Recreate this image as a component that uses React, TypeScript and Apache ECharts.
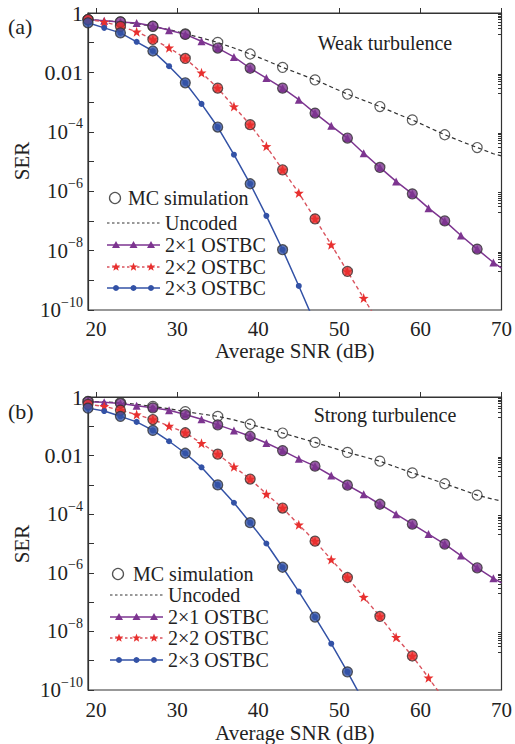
import React, { useEffect, useRef } from 'react';
import * as echarts from 'echarts';

// ---------- data (SER given as log10 values) ----------
const SNR_DB = [19, 21, 23, 25, 27, 29, 31, 33, 35, 37, 39, 41, 43, 45, 47, 49, 51, 53, 55, 57, 59, 61, 63, 65, 67, 69, 70];
const MC_SNR = [19, 23, 27, 31, 35, 39, 43, 47, 51, 55, 59, 63, 67];

const X_TICKS = [20, 30, 40, 50, 60, 70];
const Y_LABEL_TICKS = [0, -2, -4, -6, -8, -10];
const Y_MAJOR_TICKS = [0, -1, -2, -3, -4, -5, -6, -7, -8, -9, -10];

// (a) weak turbulence
const uncodedA = [-0.22, -0.26, -0.30, -0.36, -0.45, -0.56, -0.70, -0.84, -0.99, -1.18, -1.38, -1.60, -1.83, -2.04, -2.25, -2.49, -2.73, -2.94, -3.15, -3.38, -3.60, -3.85, -4.10, -4.32, -4.53, -4.74, -4.81];
const ostbc21A = [-0.22, -0.26, -0.30, -0.34, -0.44, -0.58, -0.72, -0.95, -1.18, -1.48, -1.86, -2.19, -2.53, -2.92, -3.37, -3.80, -4.21, -4.72, -5.20, -5.67, -6.09, -6.57, -7.00, -7.49, -7.95, -8.40, -8.59];
const ostbc22A = [-0.22, -0.30, -0.45, -0.63, -0.89, -1.17, -1.53, -2.01, -2.53, -3.15, -3.76, -4.49, -5.28, -6.06, -6.93, -7.80, -8.70, -9.60, -10.5];
const ostbc23A = [-0.33, -0.50, -0.67, -0.97, -1.28, -1.79, -2.35, -3.06, -3.84, -4.77, -5.75, -6.83, -7.97, -9.19, -10.45];

// (b) strong turbulence
const uncodedB = [-0.15, -0.17, -0.19, -0.25, -0.32, -0.40, -0.50, -0.58, -0.66, -0.78, -0.93, -1.08, -1.23, -1.39, -1.55, -1.72, -1.89, -2.04, -2.19, -2.39, -2.59, -2.77, -2.96, -3.15, -3.35, -3.49, -3.55];
const ostbc21B = [-0.16, -0.18, -0.22, -0.30, -0.37, -0.45, -0.60, -0.76, -0.95, -1.14, -1.34, -1.57, -1.83, -2.11, -2.36, -2.68, -3.01, -3.32, -3.66, -4.00, -4.34, -4.68, -5.02, -5.41, -5.83, -6.19, -6.34];
const ostbc22B = [-0.25, -0.32, -0.45, -0.60, -0.77, -0.99, -1.22, -1.58, -1.95, -2.38, -2.80, -3.31, -3.79, -4.36, -4.92, -5.55, -6.16, -6.83, -7.49, -8.20, -8.84, -9.58, -10.35];
const ostbc23B = [-0.38, -0.48, -0.66, -0.85, -1.14, -1.51, -1.92, -2.40, -3.00, -3.61, -4.29, -5.00, -5.81, -6.64, -7.51, -8.42, -9.38, -10.4];

// last SNR with an MC simulation circle, per curve
const MC_LAST_A = { uncoded: 67, o21: 67, o22: 51, o23: 43 };
const MC_LAST_B = { uncoded: 67, o21: 67, o22: 59, o23: 51 };

const LEGEND_NAMES = ['MC simulation', 'Uncoded', '2×1 OSTBC', '2×2 OSTBC', '2×3 OSTBC'];

// ---------- styling ----------
const FONT = 'Liberation Serif, Times New Roman, serif';
const INK = '#222';
const AXIS = '#333';
const C_UNC = '#333';
const C_21 = '#7D3590';
const C_22_LINE = '#D9535E';
const C_22 = '#E8302F';
const C_23 = '#3352A6';
const STAR = 'path://M0,-10L2.35,-3.24L9.51,-3.09L3.8,1.24L5.88,8.09L0,4L-5.88,8.09L-3.8,1.24L-9.51,-3.09L-2.35,-3.24Z';

const minorTicks: number[] = [];
[0, -2, -4, -6, -8].forEach((d) => {
  for (let k = 2; k <= 9; k++) minorTicks.push(d - 1 + Math.log10(k));
});

function curve(name: string, ys: number[], grid: number, color: string, lineColor: string, symbol: string, size: number, dash: any, width: number) {
  const data = ys.map((y, i) => {
    const x = SNR_DB[i];
    const hide = x === 70 || y < -10;
    return hide ? { value: [x, y], symbol: 'none' } : [x, y];
  });
  return {
    type: 'line', name, xAxisIndex: grid, yAxisIndex: grid * 2,
    data, symbol, symbolSize: size, showSymbol: symbol !== 'none', clip: true,
    lineStyle: { color: lineColor, width, type: dash },
    itemStyle: { color }, z: 3,
  };
}

function mc(ys: number[], last: number, grid: number, fill: string) {
  const data: number[][] = [];
  ys.forEach((y, i) => {
    const x = SNR_DB[i];
    if (MC_SNR.includes(x) && x <= last) data.push([x, y]);
  });
  return {
    type: 'scatter', name: 'MC simulation', xAxisIndex: grid, yAxisIndex: grid * 2,
    data, symbol: 'circle', symbolSize: 10, clip: true,
    itemStyle: { color: fill, borderColor: '#333', borderWidth: 1.2 }, z: 5,
  };
}

function starPts(cx: number, cy: number, R: number, r: number) {
  const pts: number[][] = [];
  for (let i = 0; i < 10; i++) {
    const a = -Math.PI / 2 + (i * Math.PI) / 5;
    const rad = i % 2 === 0 ? R : r;
    pts.push([cx + rad * Math.cos(a), cy + rad * Math.sin(a)]);
  }
  return pts;
}

function legend(x0: number, circleX: number, mcTextX: number, rows: number[]) {
  const els: any[] = [];
  const len = 53;
  const tx = x0 + len + 5;
  const ts = { fill: INK, fontSize: 20, fontFamily: FONT, lineHeight: 18, verticalAlign: 'middle', align: 'left' };
  els.push({ type: 'circle', shape: { cx: circleX, cy: rows[0], r: 5.5 }, style: { fill: 'none', stroke: '#555', lineWidth: 1.3 } });
  els.push({ type: 'text', x: mcTextX, y: rows[0], style: { ...ts, text: LEGEND_NAMES[0] } });
  // uncoded
  els.push({ type: 'line', shape: { x1: x0, y1: rows[1], x2: x0 + len, y2: rows[1] }, style: { stroke: C_UNC, lineWidth: 1.2, lineDash: [2.5, 2.5] } });
  els.push({ type: 'text', x: tx, y: rows[1], style: { ...ts, text: LEGEND_NAMES[1] } });
  const mk = [9, 26.5, 44];
  // 2x1
  els.push({ type: 'line', shape: { x1: x0, y1: rows[2], x2: x0 + len, y2: rows[2] }, style: { stroke: C_21, lineWidth: 1.6 } });
  mk.forEach((m) => els.push({ type: 'polygon', shape: { points: [[x0 + m, rows[2] - 4], [x0 + m + 4, rows[2] + 3], [x0 + m - 4, rows[2] + 3]] }, style: { fill: C_21 } }));
  els.push({ type: 'text', x: tx, y: rows[2], style: { ...ts, text: LEGEND_NAMES[2] } });
  // 2x2
  els.push({ type: 'line', shape: { x1: x0, y1: rows[3], x2: x0 + len, y2: rows[3] }, style: { stroke: C_22_LINE, lineWidth: 1.4, lineDash: [2.5, 2.5] } });
  mk.forEach((m) => els.push({ type: 'polygon', shape: { points: starPts(x0 + m, rows[3], 4.5, 1.9) }, style: { fill: C_22 } }));
  els.push({ type: 'text', x: tx, y: rows[3], style: { ...ts, text: LEGEND_NAMES[3] } });
  // 2x3
  els.push({ type: 'line', shape: { x1: x0, y1: rows[4], x2: x0 + len, y2: rows[4] }, style: { stroke: C_23, lineWidth: 1.6 } });
  mk.forEach((m) => els.push({ type: 'circle', shape: { cx: x0 + m, cy: rows[4], r: 3 }, style: { fill: C_23 } }));
  els.push({ type: 'text', x: tx, y: rows[4], style: { ...ts, text: LEGEND_NAMES[4] } });
  return els;
}

function xAxis(grid: number, labelMargin: number, nameGap: number) {
  return {
    type: 'value', gridIndex: grid, min: 19, max: 70,
    axisLine: { show: true, lineStyle: { color: AXIS, width: 1.2 } },
    axisTick: { show: true, inside: true, length: 5, customValues: X_TICKS, lineStyle: { color: AXIS } },
    axisLabel: { customValues: X_TICKS, fontSize: 21, fontFamily: FONT, color: INK, margin: labelMargin },
    splitLine: { show: false },
    name: 'Average SNR (dB)', nameLocation: 'middle', nameGap,
    nameTextStyle: { fontSize: 21, fontFamily: FONT, color: INK },
  };
}

function yAxes(grid: number) {
  const labelFmt = (v: number) => {
    const r = Math.round(v);
    if (r === 0) return '1';
    if (r === -2) return '0.01';
    return `{b|10}{s|−${Math.abs(r)}}`;
  };
  return [
    {
      type: 'value', gridIndex: grid, min: -10, max: 0,
      axisLine: { show: true, lineStyle: { color: AXIS, width: 1.2 } },
      axisTick: { show: true, inside: true, length: 6, customValues: Y_MAJOR_TICKS, lineStyle: { color: AXIS } },
      axisLabel: {
        customValues: Y_LABEL_TICKS, formatter: labelFmt, fontSize: 22, fontFamily: FONT, color: INK, margin: 5,
        rich: {
          b: { fontSize: 21, fontFamily: FONT, color: INK, lineHeight: 30 },
          s: { fontSize: 14, fontFamily: FONT, color: INK, verticalAlign: 'top', lineHeight: 14 },
        },
      },
      splitLine: { show: false },
    },
    {
      type: 'value', gridIndex: grid, min: -10, max: 0,
      axisLine: { show: false },
      axisTick: { show: true, inside: true, length: 3.5, customValues: minorTicks, lineStyle: { color: AXIS } },
      axisLabel: { show: false },
      splitLine: { show: false },
    },
  ];
}

export default function App() {
  const ref = useRef<HTMLDivElement>(null);
  useEffect(() => {
    if (!ref.current) return;
    const chart = echarts.init(ref.current, null, { renderer: 'svg' });
    const big = { fill: INK, fontFamily: FONT, verticalAlign: 'middle' };
    const option: any = {
      animation: false,
      backgroundColor: '#fff',
      textStyle: { fontFamily: FONT },
      grid: [
        { left: 88, top: 13, width: 415, height: 297, show: true, borderColor: AXIS, borderWidth: 1.2, containLabel: false },
        { left: 88, top: 397, width: 415, height: 295, show: true, borderColor: AXIS, borderWidth: 1.2, containLabel: false },
      ],
      xAxis: [xAxis(0, 8, 30), xAxis(1, 9, 32)],
      yAxis: [...yAxes(0), ...yAxes(1)],
      series: [
        curve('Uncoded', uncodedA, 0, C_UNC, C_UNC, 'none', 0, [4, 3], 1.2),
        curve('2×1 OSTBC', ostbc21A, 0, C_21, C_21, 'triangle', 8, 'solid', 1.5),
        curve('2×2 OSTBC', ostbc22A, 0, C_22, C_22_LINE, STAR, 10, [4, 3], 1.4),
        curve('2×3 OSTBC', ostbc23A, 0, C_23, C_23, 'circle', 6, 'solid', 1.5),
        mc(uncodedA, MC_LAST_A.uncoded, 0, 'rgba(255,255,255,0)'),
        mc(ostbc21A, MC_LAST_A.o21, 0, C_21),
        mc(ostbc22A, MC_LAST_A.o22, 0, C_22),
        mc(ostbc23A, MC_LAST_A.o23, 0, C_23),
        curve('Uncoded', uncodedB, 1, C_UNC, C_UNC, 'none', 0, [4, 3], 1.2),
        curve('2×1 OSTBC', ostbc21B, 1, C_21, C_21, 'triangle', 8, 'solid', 1.5),
        curve('2×2 OSTBC', ostbc22B, 1, C_22, C_22_LINE, STAR, 10, [4, 3], 1.4),
        curve('2×3 OSTBC', ostbc23B, 1, C_23, C_23, 'circle', 6, 'solid', 1.5),
        mc(uncodedB, MC_LAST_B.uncoded, 1, 'rgba(255,255,255,0)'),
        mc(ostbc21B, MC_LAST_B.o21, 1, C_21),
        mc(ostbc22B, MC_LAST_B.o22, 1, C_22),
        mc(ostbc23B, MC_LAST_B.o23, 1, C_23),
      ],
      graphic: [
        { type: 'text', x: 8, y: 26, style: { ...big, text: '(a)', fontSize: 22 } },
        { type: 'text', x: 8, y: 411, style: { ...big, text: '(b)', fontSize: 22 } },
        { type: 'text', x: 385, y: 43, style: { ...big, text: 'Weak turbulence', fontSize: 20, align: 'center' } },
        { type: 'text', x: 385, y: 415, style: { ...big, text: 'Strong turbulence', fontSize: 20, align: 'center' } },
        { type: 'text', x: 22, y: 161, rotation: Math.PI / 2, style: { ...big, text: 'SER', fontSize: 21, align: 'center' } },
        { type: 'text', x: 22, y: 544, rotation: Math.PI / 2, style: { ...big, text: 'SER', fontSize: 21, align: 'center' } },
        ...legend(107, 115, 128, [198, 223, 245, 267, 288]),
        ...legend(110, 118, 133, [574, 595, 617, 638, 660]),
      ],
    };
    chart.setOption(option);
    return () => chart.dispose();
  }, []);
  return <div ref={ref} style={{ position: 'absolute', left: 0, top: 0, width: 515, height: 744, background: '#fff' }} />;
}
